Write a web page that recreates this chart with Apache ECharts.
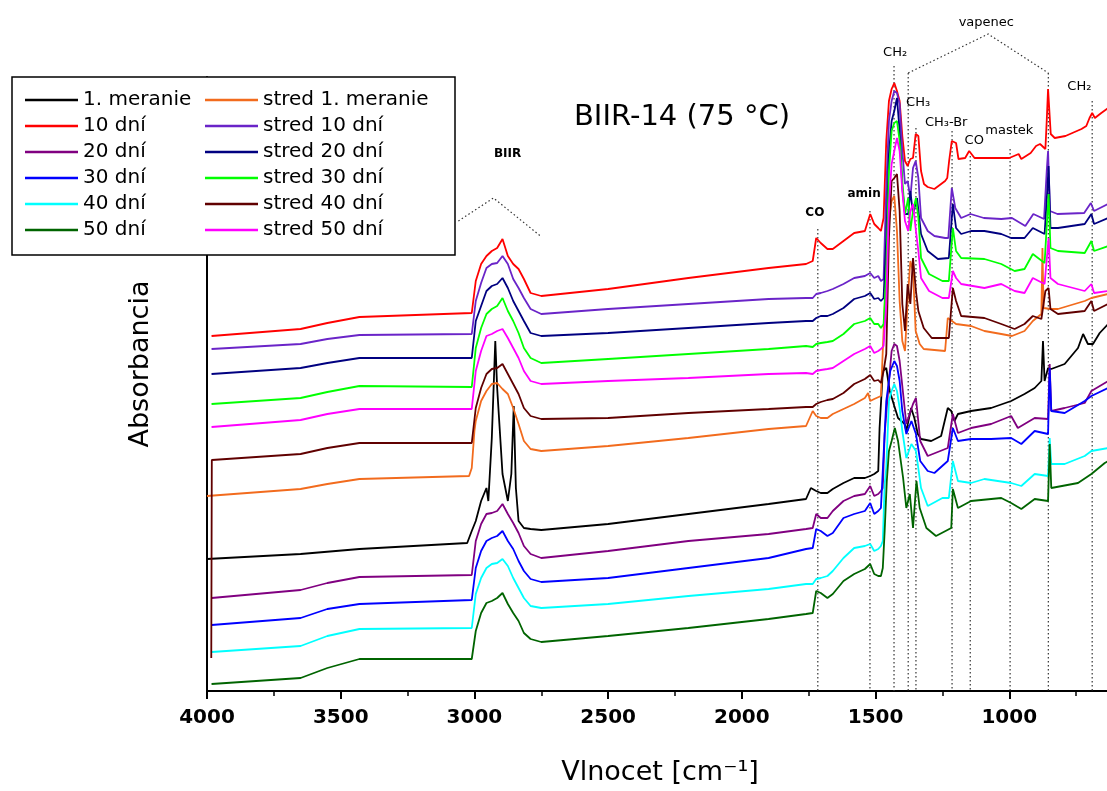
<!DOCTYPE html>
<html><head><meta charset="utf-8">
<script src="https://cdn.jsdelivr.net/npm/echarts@6.0.0/dist/echarts.min.js"></script>
<style>html,body{margin:0;padding:0;background:#fff}#c{width:1107px;height:791px}</style>
</head><body><div id="c"></div>
<script>
// ---- series names & colours ----
const names = ['1. meranie','10 dní','20 dní','30 dní','40 dní','50 dní',
  'stred 1. meranie','stred 10 dní','stred 20 dní','stred 30 dní','stred 40 dní','stred 50 dní'];
const colors = ['#000000','#ff0000','#800080','#0000ff','#00ffff','#006400',
  '#f26b1d','#6a24c8','#000080','#00ff00','#600000','#ff00ff'];

// ---- data: [wavenumber cm-1, absorbance (offset, a.u.)] ----
const d_m1 = [[4000,1.32],[3650,1.37],[3430,1.42],[3027,1.48],[3010,1.60],[2995,1.70],[2975,1.90],[2955,2.03],[2948,1.90],[2935,2.53],[2922,3.50],[2915,3.03],[2895,2.17],[2875,1.90],[2862,2.17],[2853,2.85],[2845,2.03],[2835,1.70],[2815,1.63],[2790,1.62],[2750,1.61],[2500,1.67],[2200,1.77],[1900,1.87],[1760,1.92],[1742,2.03],[1722,2.00],[1705,1.98],[1680,1.98],[1660,2.02],[1620,2.08],[1580,2.13],[1540,2.13],[1520,2.15],[1505,2.17],[1490,2.20],[1485,2.63],[1473,3.20],[1460,3.23],[1447,3.00],[1430,2.85],[1416,2.73],[1391,2.67],[1385,2.60],[1367,2.83],[1355,2.73],[1342,2.57],[1330,2.52],[1292,2.50],[1255,2.55],[1230,2.83],[1217,2.80],[1205,2.70],[1192,2.77],[1143,2.80],[1068,2.83],[993,2.90],[943,2.97],[905,3.03],[880,3.10],[874,3.50],[868,3.10],[855,3.23],[843,3.22],[793,3.27],[743,3.43],[724,3.57],[706,3.47],[687,3.47],[662,3.58],[630,3.67]];
const d_10 = [[3983,3.55],[3650,3.62],[3550,3.68],[3430,3.74],[3010,3.78],[2995,4.10],[2975,4.27],[2955,4.35],[2935,4.40],[2915,4.43],[2895,4.52],[2875,4.35],[2855,4.27],[2835,4.22],[2815,4.12],[2790,3.98],[2750,3.95],[2500,4.02],[2200,4.13],[1900,4.23],[1760,4.27],[1735,4.30],[1722,4.53],[1705,4.48],[1680,4.42],[1660,4.42],[1620,4.50],[1580,4.58],[1540,4.60],[1520,4.77],[1505,4.67],[1490,4.63],[1480,4.60],[1470,4.73],[1460,5.50],[1450,5.90],[1440,6.02],[1430,6.08],[1420,6.00],[1410,5.90],[1400,5.55],[1390,5.30],[1380,5.25],[1370,5.32],[1360,5.33],[1350,5.57],[1340,5.55],[1330,5.20],[1319,5.07],[1305,5.04],[1280,5.02],[1240,5.10],[1232,5.13],[1225,5.30],[1215,5.50],[1199,5.48],[1190,5.32],[1165,5.33],[1150,5.40],[1130,5.33],[1100,5.33],[1050,5.33],[1000,5.33],[965,5.37],[955,5.32],[920,5.38],[900,5.45],[885,5.47],[865,5.42],[860,5.70],[855,6.02],[845,5.57],[830,5.53],[790,5.55],[730,5.62],[712,5.65],[700,5.73],[690,5.78],[680,5.73],[656,5.78],[630,5.83]];
const d_20 = [[3983,0.93],[3650,1.01],[3550,1.08],[3430,1.14],[3010,1.16],[2995,1.50],[2975,1.67],[2955,1.77],[2935,1.78],[2915,1.80],[2895,1.87],[2875,1.77],[2855,1.68],[2835,1.58],[2815,1.45],[2790,1.37],[2750,1.33],[2500,1.40],[2200,1.50],[1900,1.57],[1760,1.62],[1735,1.63],[1722,1.77],[1705,1.73],[1680,1.73],[1660,1.80],[1620,1.90],[1580,1.95],[1540,1.97],[1520,2.05],[1505,1.95],[1490,1.97],[1480,2.00],[1473,2.03],[1466,2.57],[1450,3.10],[1440,3.40],[1430,3.47],[1420,3.45],[1410,3.30],[1402,3.10],[1385,2.67],[1360,2.87],[1349,2.93],[1333,2.50],[1305,2.35],[1230,2.43],[1211,2.77],[1192,2.58],[1143,2.63],[1068,2.67],[993,2.75],[968,2.63],[905,2.73],[855,2.72],[849,3.27],[843,2.80],[793,2.83],[718,2.88],[693,3.00],[630,3.10]];
const d_30 = [[3983,0.66],[3650,0.73],[3550,0.82],[3430,0.87],[3010,0.91],[2995,1.23],[2975,1.40],[2955,1.50],[2935,1.53],[2915,1.55],[2895,1.60],[2875,1.50],[2855,1.42],[2835,1.30],[2815,1.20],[2790,1.12],[2750,1.09],[2500,1.13],[2200,1.23],[1900,1.33],[1760,1.42],[1735,1.43],[1722,1.62],[1705,1.60],[1680,1.55],[1660,1.58],[1620,1.73],[1580,1.77],[1540,1.80],[1520,1.88],[1505,1.77],[1490,1.80],[1480,1.83],[1473,1.83],[1460,2.90],[1445,3.20],[1430,3.30],[1420,3.25],[1410,3.10],[1400,2.80],[1385,2.57],[1366,2.70],[1349,2.57],[1333,2.30],[1305,2.20],[1280,2.18],[1230,2.30],[1211,2.63],[1192,2.50],[1143,2.52],[1068,2.52],[993,2.53],[955,2.47],[905,2.60],[855,2.57],[849,3.23],[843,2.80],[793,2.78],[718,2.90],[693,2.95],[630,3.03]];
const d_40 = [[3983,0.39],[3650,0.45],[3550,0.55],[3430,0.62],[3010,0.63],[2995,0.97],[2975,1.13],[2955,1.23],[2935,1.27],[2915,1.28],[2895,1.32],[2875,1.25],[2855,1.13],[2835,1.03],[2815,0.93],[2790,0.85],[2750,0.83],[2500,0.87],[2200,0.95],[1900,1.02],[1760,1.07],[1735,1.07],[1722,1.12],[1705,1.13],[1680,1.15],[1660,1.20],[1620,1.33],[1580,1.43],[1540,1.45],[1520,1.47],[1505,1.40],[1490,1.42],[1480,1.45],[1473,1.50],[1466,2.07],[1460,2.23],[1450,2.90],[1440,3.00],[1430,3.07],[1420,3.00],[1410,2.83],[1400,2.60],[1385,2.33],[1366,2.47],[1349,2.40],[1330,2.03],[1305,1.85],[1250,1.93],[1226,1.93],[1211,2.30],[1192,2.10],[1143,2.08],[1093,2.12],[993,2.08],[955,2.05],[905,2.17],[855,2.15],[849,2.53],[843,2.27],[793,2.27],[718,2.35],[693,2.40],[630,2.43]];
const d_50 = [[3983,0.07],[3650,0.13],[3550,0.23],[3430,0.32],[3010,0.32],[2995,0.60],[2975,0.78],[2955,0.88],[2935,0.90],[2915,0.93],[2895,0.98],[2875,0.87],[2855,0.78],[2835,0.70],[2815,0.58],[2790,0.52],[2750,0.49],[2500,0.55],[2200,0.63],[1900,0.72],[1760,0.77],[1735,0.78],[1722,1.00],[1705,0.98],[1680,0.93],[1660,0.97],[1620,1.10],[1580,1.17],[1540,1.22],[1520,1.27],[1505,1.17],[1490,1.15],[1480,1.15],[1473,1.23],[1466,1.60],[1458,2.10],[1450,2.40],[1440,2.50],[1428,2.63],[1416,2.50],[1397,2.13],[1385,1.83],[1372,1.97],[1360,1.63],[1347,2.10],[1335,1.83],[1310,1.63],[1274,1.55],[1217,1.63],[1211,2.02],[1192,1.83],[1143,1.90],[1030,1.93],[993,1.88],[955,1.82],[905,1.92],[855,1.90],[849,2.47],[843,2.03],[743,2.08],[693,2.17],[643,2.28],[630,2.30]];
const s_m1 = [[4000,1.95],[3650,2.02],[3550,2.07],[3430,2.12],[3020,2.15],[3010,2.23],[3000,2.60],[2995,2.70],[2975,2.90],[2955,3.00],[2935,3.07],[2915,3.08],[2895,3.02],[2875,2.97],[2855,2.83],[2835,2.67],[2815,2.50],[2790,2.42],[2750,2.40],[2500,2.45],[2200,2.53],[1900,2.62],[1760,2.65],[1735,2.80],[1722,2.75],[1705,2.73],[1680,2.73],[1660,2.77],[1620,2.82],[1580,2.87],[1540,2.93],[1528,2.98],[1520,2.90],[1505,2.92],[1480,2.95],[1470,3.60],[1460,4.20],[1450,4.70],[1440,4.90],[1430,4.95],[1420,4.60],[1410,3.90],[1400,3.50],[1390,3.40],[1380,3.90],[1370,4.30],[1360,4.20],[1350,3.60],[1335,3.47],[1320,3.42],[1240,3.40],[1230,3.73],[1199,3.67],[1143,3.65],[1093,3.60],[1030,3.57],[990,3.55],[943,3.60],[912,3.70],[880,3.77],[876,4.43],[872,3.83],[846,3.82],[818,3.82],[718,3.90],[693,3.93],[630,3.97]];
const s_10 = [[3983,3.42],[3650,3.47],[3550,3.52],[3430,3.56],[3010,3.57],[2995,3.90],[2975,4.08],[2955,4.23],[2935,4.27],[2915,4.28],[2895,4.35],[2875,4.27],[2855,4.12],[2835,4.03],[2815,3.93],[2790,3.82],[2750,3.77],[2500,3.82],[2200,3.87],[1900,3.92],[1760,3.93],[1735,3.93],[1722,3.97],[1705,3.98],[1680,4.00],[1660,4.02],[1620,4.07],[1580,4.13],[1540,4.15],[1520,4.18],[1505,4.13],[1490,4.15],[1480,4.10],[1470,4.12],[1460,5.03],[1450,5.70],[1440,5.90],[1430,6.00],[1420,5.98],[1410,5.87],[1400,5.40],[1390,5.07],[1380,5.10],[1370,4.93],[1360,5.23],[1350,5.30],[1340,5.13],[1330,4.73],[1305,4.60],[1280,4.55],[1240,4.53],[1228,4.53],[1215,5.03],[1202,4.83],[1180,4.73],[1145,4.77],[1095,4.73],[1030,4.72],[990,4.73],[940,4.65],[910,4.77],[870,4.72],[860,5.20],[855,5.40],[848,4.80],[820,4.77],[720,4.78],[695,4.88],[683,4.80],[630,4.87]];
const s_20 = [[3983,3.17],[3650,3.23],[3550,3.28],[3430,3.33],[3010,3.33],[2995,3.70],[2975,3.85],[2955,4.00],[2935,4.05],[2915,4.07],[2895,4.13],[2875,4.03],[2855,3.90],[2835,3.80],[2815,3.70],[2790,3.58],[2750,3.55],[2500,3.58],[2200,3.63],[1900,3.68],[1760,3.70],[1735,3.70],[1722,3.73],[1705,3.75],[1680,3.75],[1660,3.77],[1620,3.83],[1580,3.92],[1540,3.95],[1520,3.98],[1505,3.92],[1490,3.93],[1480,3.90],[1470,3.93],[1460,4.53],[1450,5.37],[1440,5.70],[1430,5.80],[1420,5.93],[1410,5.60],[1400,5.03],[1390,4.77],[1378,4.77],[1370,5.00],[1360,4.77],[1345,4.93],[1330,4.57],[1305,4.40],[1267,4.32],[1226,4.33],[1211,4.87],[1199,4.63],[1180,4.57],[1143,4.60],[1093,4.60],[1030,4.57],[993,4.53],[943,4.53],[912,4.63],[868,4.57],[858,5.00],[853,5.25],[846,4.63],[818,4.63],[718,4.67],[693,4.77],[683,4.67],[630,4.73]];
const s_30 = [[3983,2.87],[3650,2.93],[3550,2.99],[3430,3.05],[3010,3.04],[2995,3.43],[2975,3.63],[2955,3.77],[2935,3.82],[2915,3.85],[2895,3.93],[2875,3.80],[2855,3.70],[2835,3.58],[2815,3.43],[2790,3.33],[2750,3.28],[2500,3.32],[2200,3.37],[1900,3.42],[1760,3.45],[1735,3.44],[1722,3.47],[1705,3.48],[1680,3.49],[1660,3.50],[1620,3.57],[1580,3.67],[1540,3.70],[1520,3.73],[1505,3.67],[1490,3.67],[1480,3.63],[1470,3.67],[1460,4.20],[1450,5.20],[1440,5.60],[1430,5.68],[1420,5.70],[1410,5.50],[1400,5.10],[1390,4.77],[1378,4.93],[1370,4.60],[1360,4.80],[1349,4.93],[1340,4.73],[1330,4.33],[1300,4.17],[1250,4.10],[1226,4.10],[1211,4.63],[1199,4.40],[1180,4.33],[1093,4.32],[1030,4.27],[980,4.20],[943,4.22],[912,4.37],[868,4.28],[853,4.97],[846,4.43],[818,4.40],[718,4.38],[693,4.50],[683,4.40],[630,4.45]];
const s_40 = [[3984,0.33],[3982,2.31],[3650,2.37],[3550,2.43],[3430,2.48],[3010,2.48],[2995,2.83],[2975,3.03],[2955,3.17],[2935,3.22],[2915,3.23],[2895,3.27],[2875,3.17],[2855,3.07],[2835,2.97],[2815,2.83],[2790,2.75],[2750,2.72],[2500,2.73],[2200,2.78],[1900,2.82],[1760,2.84],[1735,2.84],[1722,2.87],[1705,2.89],[1680,2.91],[1660,2.92],[1620,2.98],[1580,3.07],[1540,3.12],[1520,3.16],[1505,3.10],[1490,3.11],[1480,3.08],[1470,3.20],[1460,3.37],[1450,4.53],[1440,5.10],[1430,5.13],[1420,5.17],[1410,4.80],[1400,3.87],[1390,3.60],[1380,4.07],[1370,3.87],[1360,4.33],[1349,4.00],[1340,3.80],[1320,3.63],[1290,3.53],[1226,3.53],[1211,4.03],[1199,3.90],[1180,3.75],[1093,3.73],[1030,3.67],[980,3.62],[943,3.67],[912,3.75],[880,3.72],[865,4.00],[853,4.03],[846,3.82],[818,3.77],[718,3.80],[693,3.90],[683,3.80],[630,3.87]];
const s_50 = [[3983,2.64],[3650,2.71],[3550,2.77],[3430,2.82],[3010,2.82],[2995,3.20],[2975,3.40],[2955,3.55],[2935,3.57],[2915,3.60],[2895,3.62],[2875,3.53],[2855,3.43],[2835,3.33],[2815,3.20],[2790,3.10],[2750,3.07],[2500,3.10],[2200,3.13],[1900,3.17],[1760,3.18],[1735,3.17],[1722,3.20],[1705,3.21],[1680,3.22],[1660,3.23],[1620,3.30],[1580,3.37],[1540,3.42],[1520,3.45],[1505,3.38],[1490,3.40],[1480,3.42],[1470,3.45],[1460,3.87],[1450,4.87],[1440,5.27],[1430,5.40],[1420,5.53],[1410,5.40],[1400,5.00],[1390,4.70],[1378,4.60],[1370,4.80],[1360,4.87],[1349,4.60],[1340,4.40],[1330,4.13],[1300,4.00],[1250,3.93],[1226,3.93],[1211,4.20],[1199,4.13],[1180,4.07],[1093,4.03],[1030,4.07],[980,4.00],[943,3.98],[912,4.13],[868,4.07],[853,4.53],[846,4.13],[818,4.07],[718,4.00],[693,4.07],[683,3.98],[630,4.00]];

const seriesData = [d_m1, d_10, d_20, d_30, d_40, d_50, s_m1, s_10, s_20, s_30, s_40, s_50];

// x-axis ticks
const xMin = 500, xMax = 4000, xStep = 500;

// ---- annotations (wavenumber, absorbance) ----
const annoLabels = [
  ['BIIR', 2876, 5.37, true], ['CO', 1727, 4.78, true], ['amin', 1543, 4.97, true],
  ['CH₂', 1427, 6.38, false], ['vapenec', 1086, 6.68, false], ['CH₃', 1341, 5.88, false],
  ['CH₃-Br', 1236, 5.68, false], ['CO', 1131, 5.50, false], ['mastek', 1000, 5.60, false],
  ['CH₂', 738, 6.04, false]
];
const annoVLines = [[1716, 4.62], [1521, 4.80], [1431, 6.25], [1378, 6.18], [1349, 5.63],
  [1214, 5.60], [1146, 5.35], [997, 5.42], [854, 6.18], [690, 5.90]];
const annoTents = [
  [[3060, 4.70], [2929, 4.93], [2753, 4.55]],
  [[1378, 6.18], [1079, 6.57], [854, 6.18]]
];

const FF = 'DejaVu Sans';
const chart = echarts.init(document.getElementById('c'), null, {renderer: 'canvas'});

const legendCommon = {
  orient: 'vertical', top: 90, itemWidth: 53, itemHeight: 2.5, itemGap: 6, padding: 0,
  icon: 'rect', selectedMode: false, z: 20,
  textStyle: {fontFamily: FF, fontSize: 20, color: '#000', lineHeight: 20}
};

chart.setOption({
  animation: false,
  backgroundColor: '#fff',
  title: {text: 'BIIR-14 (75 °C)', left: 682, top: 103, textAlign: 'center', padding: 0,
    textStyle: {fontFamily: FF, fontSize: 29, fontWeight: 'normal', color: '#000'}},
  legend: [
    Object.assign({}, legendCommon, {left: 25, data: names.slice(0, 6)}),
    Object.assign({}, legendCommon, {left: 205, data: names.slice(6)})
  ],
  grid: {left: 207, right: -36, top: 77, bottom: 100, outerBoundsMode: 'none', containLabel: false},
  xAxis: {
    type: 'value', inverse: true, min: xMin, max: xMax, interval: xStep,
    axisLine: {show: true, onZero: false, lineStyle: {color: '#000', width: 2}},
    axisTick: {show: true, inside: false, length: 8, lineStyle: {color: '#000', width: 2}},
    minorTick: {show: true, splitNumber: 2, length: 5, lineStyle: {color: '#000', width: 1.5}},
    splitLine: {show: false}, minorSplitLine: {show: false},
    axisLabel: {fontFamily: FF, fontSize: 20, fontWeight: 'bold', color: '#000', margin: 17,
      showMaxLabel: true, showMinLabel: true, hideOverlap: false, formatter: v => String(v)},
    name: 'Vlnocet [cm⁻¹]', nameLocation: 'middle', nameGap: 68,
    nameTextStyle: {fontFamily: FF, fontSize: 27, color: '#000', padding: [0, 30, 0, 0]}
  },
  yAxis: {
    type: 'value', min: 0, max: 6.14,
    axisLine: {show: true, lineStyle: {color: '#000', width: 2}},
    axisTick: {show: false}, axisLabel: {show: false}, splitLine: {show: false}
  },
  series: seriesData.map((d, i) => ({
    name: names[i], type: 'line', data: d, symbol: 'none', showSymbol: false,
    lineStyle: {width: 1.8, color: colors[i]}, itemStyle: {color: colors[i]},
    emphasis: {disabled: true}
  }))
});

const P = (w, v) => chart.convertToPixel({gridIndex: 0}, [w, v]);
const dotStyle = {stroke: '#333', lineWidth: 1.2, lineDash: [1.5, 2.5], fill: null};
const g = [];
// legend frame
g.push({type: 'rect', shape: {x: 12, y: 77, width: 443, height: 178}, z: 15,
  style: {fill: '#fff', stroke: '#000', lineWidth: 1.5}});
// y-axis title
g.push({type: 'text', x: 141, y: 364, rotation: Math.PI / 2, z: 5,
  style: {text: 'Absorbancia', fontFamily: FF, fontSize: 27, fill: '#000', align: 'center', verticalAlign: 'middle'}});
annoVLines.forEach(([w, v]) => {
  const a = P(w, v), b = P(w, 0);
  g.push({type: 'line', z: 1, shape: {x1: a[0], y1: a[1], x2: b[0], y2: b[1]}, style: dotStyle});
});
annoTents.forEach(pts => {
  g.push({type: 'polyline', z: 1, shape: {points: pts.map(p => P(p[0], p[1]))}, style: dotStyle});
});
annoLabels.forEach(([t, w, v, bold]) => {
  const p = P(w, v);
  g.push({type: 'text', x: p[0], y: p[1], z: 5,
    style: {text: t, fontFamily: FF, fontSize: bold ? 12 : 13, fontWeight: bold ? 'bold' : 'normal',
      fill: '#000', align: 'center', verticalAlign: 'middle'}});
});
chart.setOption({graphic: g});
</script>
</body></html>
